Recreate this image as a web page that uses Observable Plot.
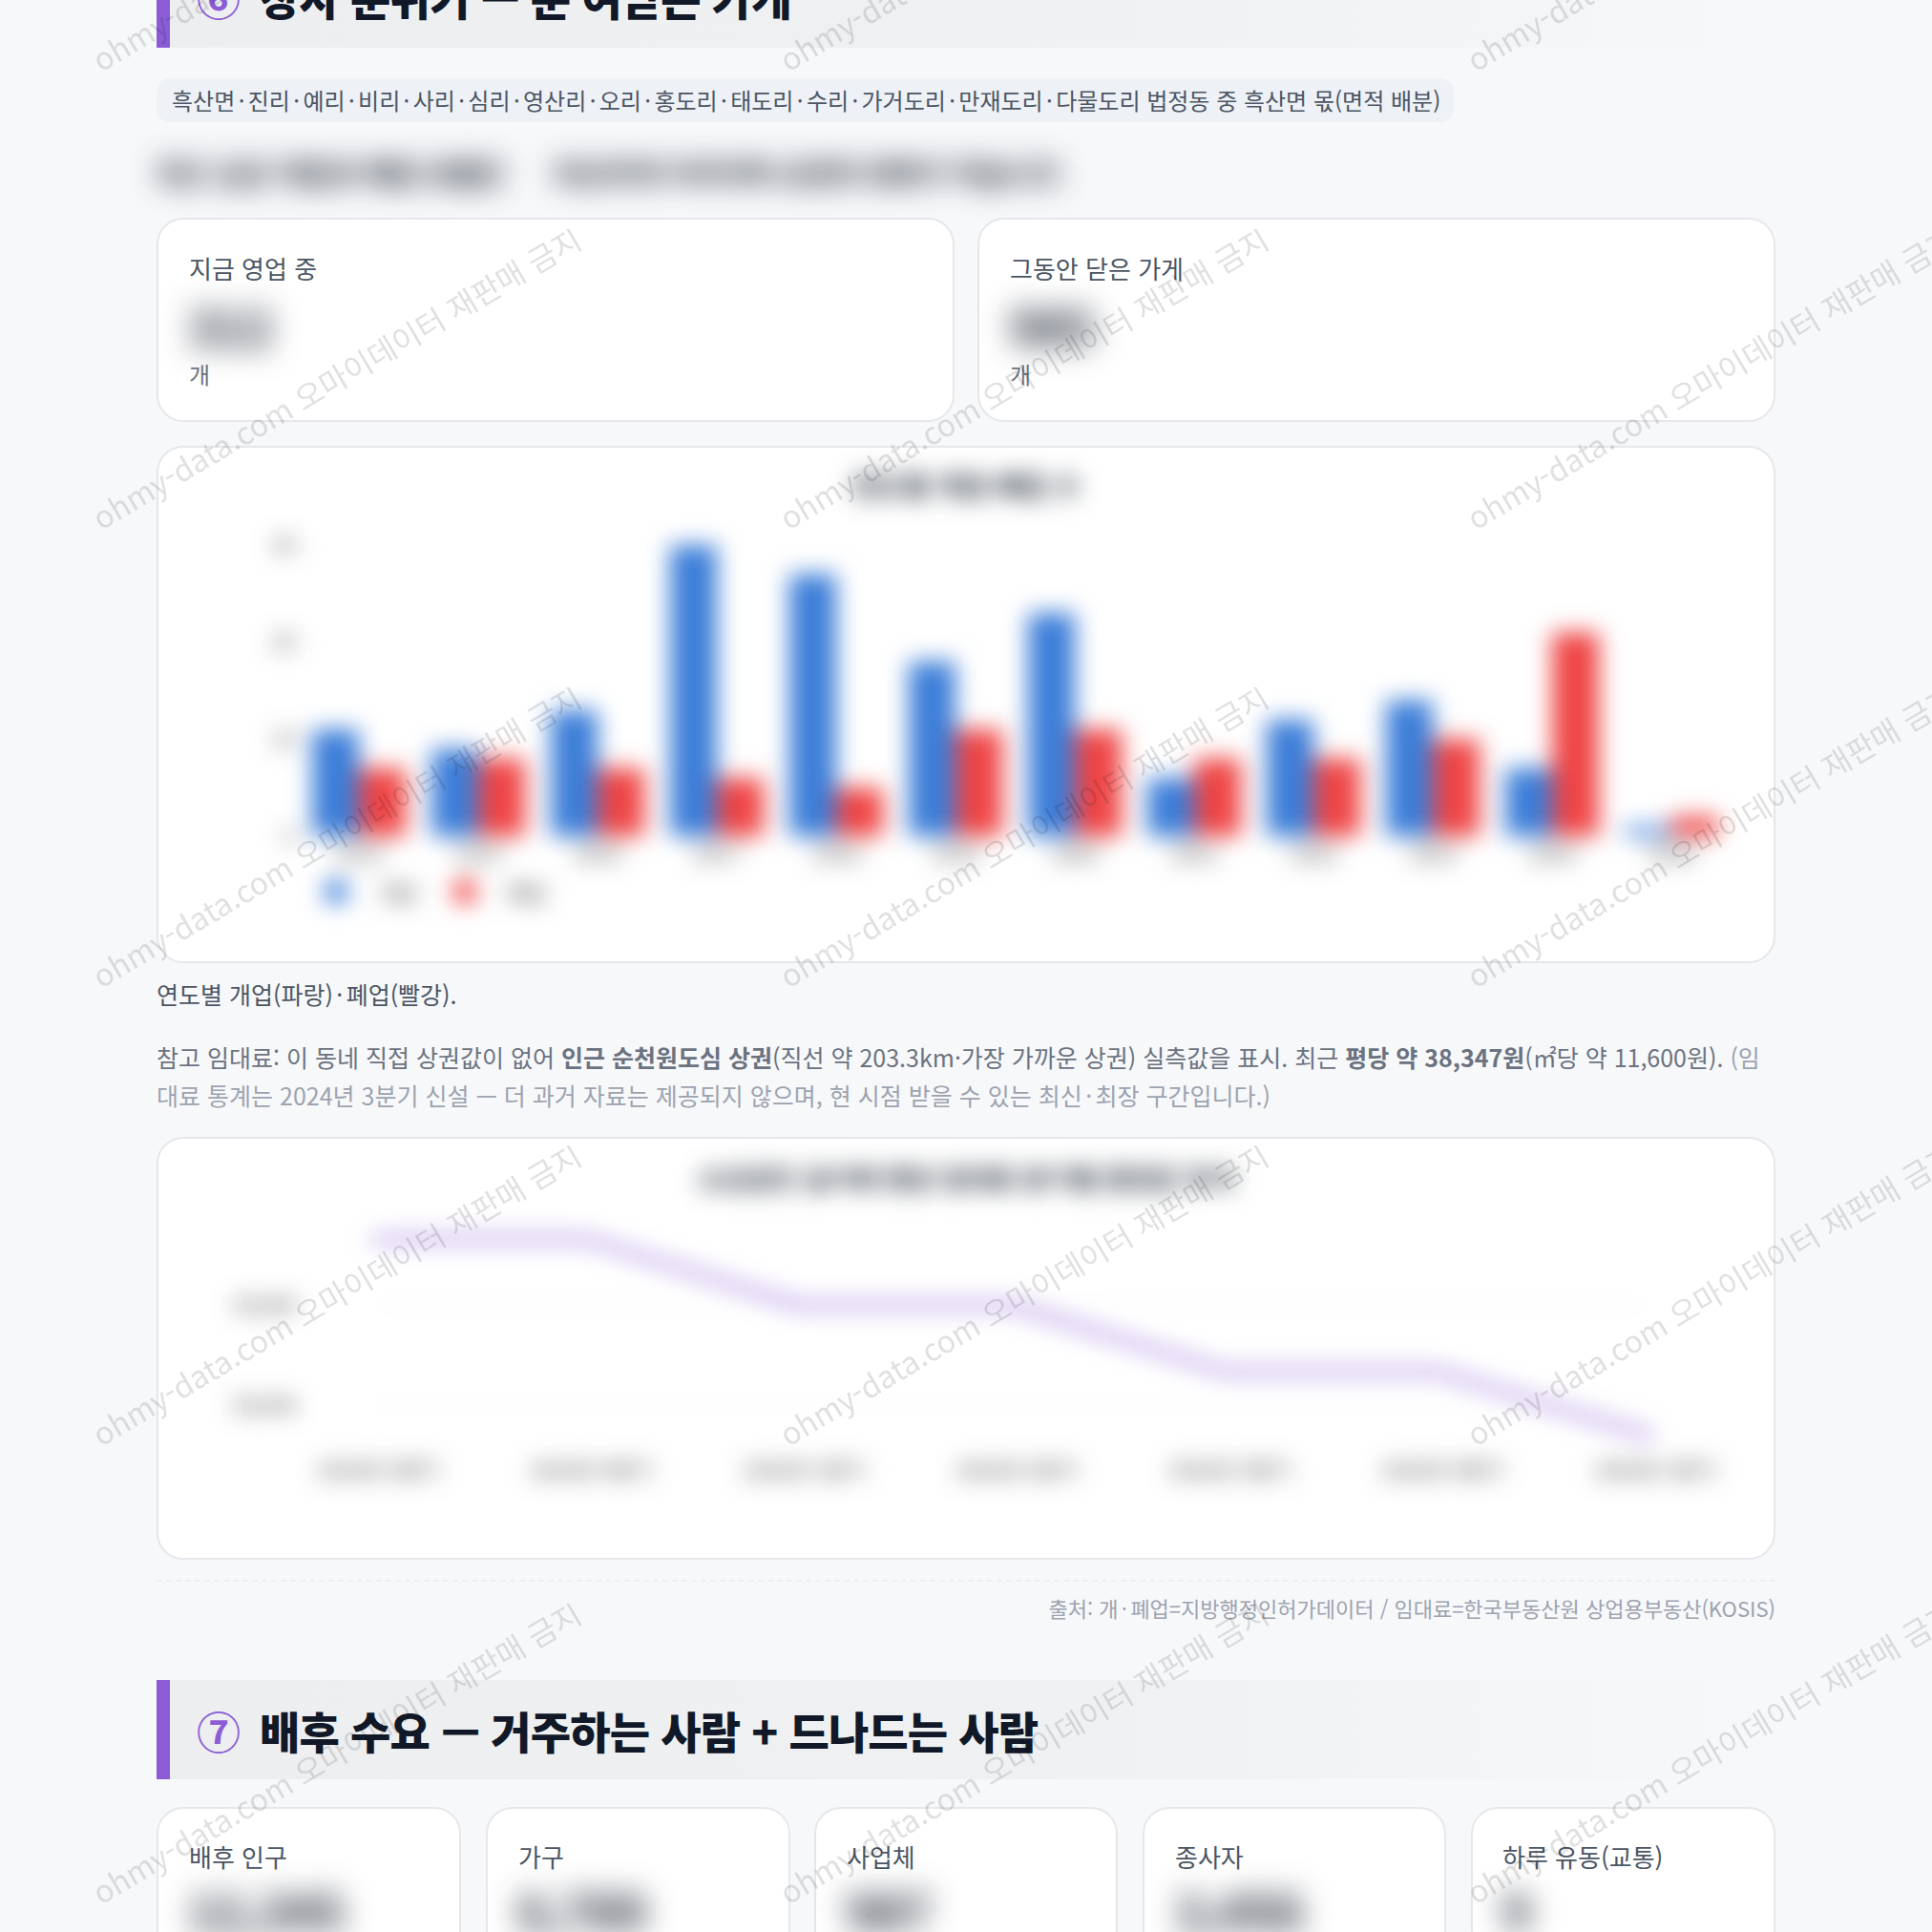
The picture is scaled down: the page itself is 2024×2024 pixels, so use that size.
<!DOCTYPE html>
<html lang="ko">
<head>
<meta charset="utf-8">
<script src="https://cdn.jsdelivr.net/npm/d3@7"></script>
<script src="https://cdn.jsdelivr.net/npm/@observablehq/plot@0.6"></script>
<style>
html,body{margin:0;padding:0;background:#f7f8fa;width:2024px;height:2024px;overflow:hidden}
body{position:relative;font-family:"Noto Sans CJK KR","Noto Sans",sans-serif;color:#4b5563}
.a{position:absolute;white-space:nowrap}
.head{left:164px;width:1696px;height:104px;background:linear-gradient(90deg,#edeef0 0%,#f0f1f3 60%,#f7f8fa 100%);box-sizing:border-box;border-left:14px solid #8b5cd6}
.htext{font-size:46px;font-weight:900;color:#111827;line-height:60px;letter-spacing:-.85px}
.hnum{font-size:46px;font-weight:700;color:#8b5cd6;line-height:60px}
.card{background:#fff;border:2px solid #e5e7eb;border-radius:28px;box-sizing:border-box}
.lab{font-size:26px;line-height:32px;color:#4b5563}
.unit{font-size:24px;line-height:32px;color:#6b7280}
.val{font-size:50px;font-weight:700;line-height:56px;color:#111827;filter:blur(16px)}
.para{font-size:30px;font-weight:700;line-height:40px;color:#111827;filter:blur(15px)}
.blurred{filter:blur(12px)}
.d{padding:0 3.4px}
svg text{font-family:"Noto Sans CJK KR","Noto Sans",sans-serif}
#wm{position:absolute;left:0;top:0;pointer-events:none;z-index:9}
</style>
</head>
<body>
<div class="a head" style="top:-54px"></div>
<div class="a hnum" style="left:206px;top:-34px">⑥</div>
<div class="a htext" style="left:272px;top:-34px">장사 분위기 — 문 여닫은 가게</div>
<div class="a" style="left:164px;top:82px;width:1359px;height:46px;background:#eef1f6;border-radius:14px"></div>
<div class="a dot" style="left:180px;top:87px;font-size:24px;line-height:36px;color:#4b5563">흑산면·진리·예리·비리·사리·심리·영산리·오리·홍도리·태도리·수리·가거도리·만재도리·다물도리 법정동 중 흑산면 몫(면적 배분)</div>
<div class="a para" style="left:164px;top:160px">최근 십년 개업과 폐업 흐름은</div>
<div class="a para" style="left:580px;top:160px">비슷하게 이어지며 상권의 변화가 작습니다</div>

<div class="a card" style="left:164px;top:228px;width:836px;height:214px"></div>
<div class="a lab" style="left:198px;top:265px">지금 영업 중</div>
<div class="a val" style="left:197px;top:312px">312</div>
<div class="a unit" style="left:198px;top:376px">개</div>
<div class="a card" style="left:1024px;top:228px;width:836px;height:214px"></div>
<div class="a lab" style="left:1058px;top:265px">그동안 닫은 가게</div>
<div class="a val" style="left:1058px;top:312px">985</div>
<div class="a unit" style="left:1058px;top:376px">개</div>

<div class="a card" style="left:164px;top:467px;width:1696px;height:542px"></div>
<div class="a blurred" id="bars" style="left:164px;top:467px;width:1696px;height:542px"></div>

<div class="a dot" style="left:164px;top:1024px;font-size:25px;line-height:34px;color:#4b5563">연도별 개업(파랑)·폐업(빨강).</div>
<div class="a" style="left:164px;top:1087px;font-size:25px;line-height:40px;color:#6b7280">참고 임대료: 이 동네 직접 상권값이 없어 <b>인근 순천원도심 상권</b>(직선 약 203.3km·가장 가까운 상권) 실측값을 표시. 최근 <b>평당 약 38,347원</b>(㎡당 약 11,600원). <span style="color:#9ca3af">(임</span></div>
<div class="a dot" style="left:164px;top:1127px;font-size:25px;line-height:40px;color:#9ca3af">대료 통계는 2024년 3분기 신설 — 더 과거 자료는 제공되지 않으며, 현 시점 받을 수 있는 최신·최장 구간입니다.)</div>

<div class="a card" style="left:164px;top:1191px;width:1696px;height:443px"></div>
<div class="a blurred" id="line" style="left:164px;top:1191px;width:1696px;height:442px"></div>

<div class="a" style="left:164px;top:1655px;width:1696px;border-top:2px dashed #eceef1"></div>
<div class="a dot" style="right:164px;top:1668px;font-size:22px;line-height:32px;color:#9ca3af">출처: 개·폐업=지방행정인허가데이터 / 임대료=한국부동산원 상업용부동산(KOSIS)</div>

<div class="a head" style="top:1760px"></div>
<div class="a hnum" style="left:206px;top:1782px">⑦</div>
<div class="a htext" style="left:272px;top:1782px">배후 수요 — 거주하는 사람 + 드나드는 사람</div>

<div class="a card" style="left:164px;top:1893px;width:319px;height:240px"></div>
<div class="a lab" style="left:198px;top:1929px">배후 인구</div>
<div class="a val" style="left:197px;top:1972px">12,345</div>
<div class="a card" style="left:509px;top:1893px;width:319px;height:240px"></div>
<div class="a lab" style="left:543px;top:1929px">가구</div>
<div class="a val" style="left:543px;top:1972px">6,789</div>
<div class="a card" style="left:853px;top:1893px;width:318px;height:240px"></div>
<div class="a lab" style="left:887px;top:1929px">사업체</div>
<div class="a val" style="left:887px;top:1972px">987</div>
<div class="a card" style="left:1197px;top:1893px;width:318px;height:240px"></div>
<div class="a lab" style="left:1231px;top:1929px">종사자</div>
<div class="a val" style="left:1231px;top:1972px">3,456</div>
<div class="a card" style="left:1541px;top:1893px;width:319px;height:240px"></div>
<div class="a lab" style="left:1574px;top:1929px">하루 유동(교통)</div>
<div class="a val" style="left:1574px;top:1972px">9</div>

<svg id="wm" width="2024" height="2024">
  <defs>
    <pattern id="wmp" patternUnits="userSpaceOnUse" x="0" y="240" width="720" height="480">
      <text transform="translate(106,316) rotate(-30.5)" font-size="32" fill="#000" fill-opacity=".12">ohmy-data.com 오마이데이터 재판매 금지</text>
    </pattern>
  </defs>
  <rect width="2024" height="2024" fill="url(#wmp)"/>
</svg>

<script>
// Bar chart data
const years = ["2014","2015","2016","2017","2018","2019","2020","2021","2022","2023","2024","2025"];
const openings = [11, 9, 13, 30, 27, 18, 23, 6, 12, 14, 7, 1];
const closures = [7, 8, 7, 6, 5, 11, 11, 8, 8, 10, 21, 2];
const kinds = ["개업", "폐업"];
const kindColors = ["#3b7dd8", "#ef4444"];
const barTicks = [0, 10, 20, 30];

// Rent line data
const quarters = ["2024년 3분기","2024년 4분기","2025년 1분기","2025년 2분기","2025년 3분기","2025년 4분기","2026년 1분기"];
const rents = [39330, 39330, 39000, 39000, 38670, 38670, 38347];
const rentTicks = [38500, 39000];

const barRows = years.flatMap((year, i) => [
  {year, kind: kinds[0], value: openings[i]},
  {year, kind: kinds[1], value: closures[i]}
]);
const rentRows = quarters.map((q, i) => ({q, v: rents[i]}));

document.querySelectorAll(".dot").forEach(el => {
  el.innerHTML = el.innerHTML.replace(/·/g, '<span class="d">·</span>');
});

const font = {fontFamily: '"Noto Sans CJK KR","Noto Sans",sans-serif', overflow: "visible", background: "transparent"};

const barChart = Plot.plot({
  width: 1696, height: 542,
  marginLeft: 158, marginRight: 56, marginTop: 104, marginBottom: 133,
  style: {...font, fontSize: "22px", color: "#333"},
  fx: {domain: years, padding: 0.217, label: null, tickSize: 0, tickPadding: 10, axis: "bottom"},
  x: {domain: kinds, padding: 0, axis: null},
  y: {domain: [0, 30], label: null, ticks: barTicks, grid: false, axis: null},
  color: {domain: kinds, range: kindColors},
  marks: [
    Plot.ruleY(barTicks, {stroke: "#000", strokeOpacity: 0.05}),
    Plot.axisY({ticks: barTicks, label: null, tickSize: 0, tickPadding: 18, anchor: "left"}),
    Plot.barY(barRows, {fx: "year", x: "kind", y: "value", fill: "kind"})
  ]
});
const barsEl = document.getElementById("bars");
barChart.style.position = "absolute"; barChart.style.left = "0"; barChart.style.top = "0";
barsEl.appendChild(barChart);

function addText(parent, text, css) {
  const d = document.createElement("div");
  d.className = "a"; d.textContent = text; d.style.cssText = css;
  parent.appendChild(d);
}
addText(barsEl, "연도별 개업·폐업 수", "left:0;width:100%;text-align:center;top:22px;font-size:29px;font-weight:700;line-height:38px;color:#1f2937");
// legend
[[0, 188], [1, 323]].forEach(([i, left]) => {
  const s = document.createElement("div");
  s.className = "a";
  s.style.cssText = `left:${left - 13}px;top:454px;width:26px;height:26px;border-radius:50%;background:${kindColors[i]}`;
  barsEl.appendChild(s);
  addText(barsEl, kinds[i], `left:${left + 44}px;top:451px;font-size:22px;line-height:32px;color:#333`);
});

const lineChart = Plot.plot({
  width: 1696, height: 442,
  marginLeft: 226, marginRight: 131, marginTop: 102.5, marginBottom: 119,
  style: {...font, fontSize: "22px", color: "#333"},
  x: {type: "point", domain: quarters, padding: 0, label: null, axis: null},
  y: {domain: [38300, 39350], label: null, ticks: rentTicks, tickFormat: d3.format(","), tickSize: 0, tickPadding: 80, grid: true},
  marks: [
    Plot.gridX(quarters, {stroke: "#000", strokeOpacity: 0.05}),
    Plot.axisX(quarters, {tickSize: 0, tickPadding: 18, label: null, dx: 5}),
    Plot.line(rentRows, {x: "q", y: "v", stroke: "#8b5cd6", strokeWidth: 5.5, curve: "linear"})
  ]
});
const lineEl = document.getElementById("line");
lineChart.style.position = "absolute"; lineChart.style.left = "0"; lineChart.style.top = "0";
lineEl.appendChild(lineChart);
addText(lineEl, "소상공인 실거래 평당 임대료 분기별 중앙값 추이", "left:0;width:100%;text-align:center;top:24px;font-size:28px;font-weight:700;line-height:38px;color:#1f2937");
</script>
</body>
</html>
